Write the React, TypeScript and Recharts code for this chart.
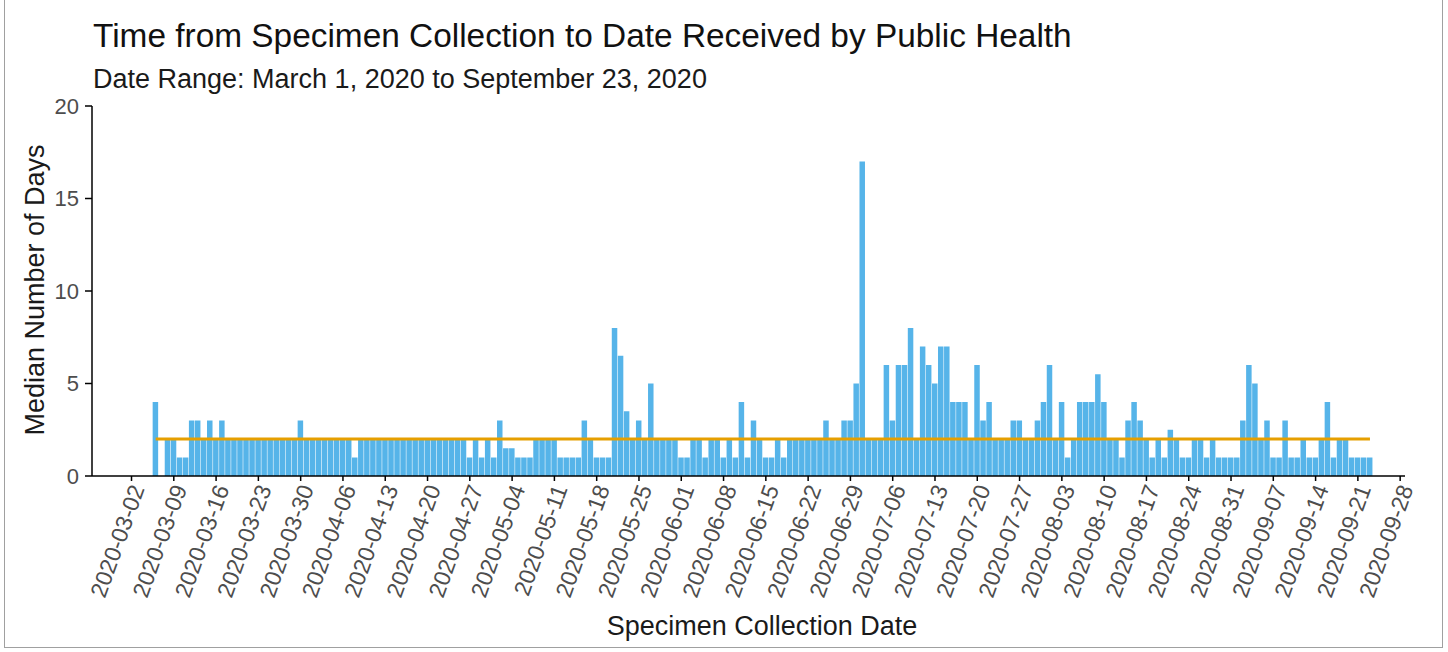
import React from 'react';
import { ComposedChart, Bar, Line, XAxis, YAxis } from 'recharts';

// median days per specimen collection date, first bar is 2020-03-06
const firstDay = 4; // days after 2020-03-02
const march = [4, null, 2, 2, 1, 1, 3, 3, 2, 3, 2, 3, 2, 2, 2, 2, 2, 2, 2, 2, 2, 2, 2, 2, 3, 2];
const april = [2, 2, 2, 2, 2, 2, 2, 1, 2, 2, 2, 2, 2, 2, 2, 2, 2, 2, 2, 2, 2, 2, 2, 2, 2, 2, 1, 2, 1, 2];
const may = [1, 3, 1.5, 1.5, 1, 1, 1, 2, 2, 2, 2, 1, 1, 1, 1, 3, 2, 1, 1, 1, 8, 6.5, 3.5, 2, 3, 2, 5, 2, 2, 2, 2];
const june = [1, 1, 2, 2, 1, 2, 2, 1, 2, 1, 4, 1, 3, 2, 1, 1, 2, 1, 2, 2, 2, 2, 2, 2, 3, 2, 2, 3, 3, 5];
const july = [17, 2, 2, 2, 6, 3, 6, 6, 8, 2, 7, 6, 5, 7, 7, 4, 4, 4, 2, 6, 3, 4, 2, 2, 2, 3, 3, 2, 2, 3, 4];
const august = [6, 2, 4, 1, 2, 4, 4, 4, 5.5, 4, 2, 2, 1, 3, 4, 3, 2, 1, 2, 1, 2.5, 2, 1, 1, 2, 2, 1, 2, 1, 1, 1];
const september = [1, 3, 6, 5, 2, 3, 1, 1, 3, 1, 1, 2, 1, 1, 2, 4, 1, 2, 2, 1, 1, 1, 1];

// overall median drawn as the orange line
const overallMedian = 2;

const tickLabels = [
  '2020-03-02', '2020-03-09', '2020-03-16', '2020-03-23', '2020-03-30',
  '2020-04-06', '2020-04-13', '2020-04-20', '2020-04-27', '2020-05-04',
  '2020-05-11', '2020-05-18', '2020-05-25', '2020-06-01', '2020-06-08',
  '2020-06-15', '2020-06-22', '2020-06-29', '2020-07-06', '2020-07-13',
  '2020-07-20', '2020-07-27', '2020-08-03', '2020-08-10', '2020-08-17',
  '2020-08-24', '2020-08-31', '2020-09-07', '2020-09-14', '2020-09-21',
  '2020-09-28',
];
const yTicks = [0, 5, 10, 15, 20];

const medians = [...march, ...april, ...may, ...june, ...july, ...august, ...september];
const data = medians.map((v, i) => ({ day: firstDay + i, median: v, overall: overallMedian }));
const xTicks = tickLabels.map((_, i) => i * 7);

const FONT = '"Liberation Sans", Arial, sans-serif';

const DateTick = ({ x, y, payload }: any) => (
  <g transform={`translate(${x + 7},${y + 3})`}>
    <text
      transform="rotate(-70)"
      textAnchor="end"
      fill="#4d4d4d"
      fontSize={23}
      fontFamily={FONT}
      dy="0.3em"
    >
      {tickLabels[Math.round(payload.value / 7)]}
    </text>
  </g>
);

export default function App() {
  return (
    <div style={{ position: 'absolute', left: 0, top: 0, width: 1448, height: 652, background: '#fff', fontFamily: FONT }}>
      <div style={{ position: 'absolute', left: 4, top: 0, width: 1437, height: 647, border: '1px solid #a0a0a0', borderTop: 'none' }} />
      <ComposedChart
        width={1448}
        height={652}
        data={data}
        margin={{ top: 106, right: 43, bottom: 0, left: 0 }}
        style={{ position: 'absolute', left: 0, top: 0 }}
      >
        <XAxis
          dataKey="day"
          type="number"
          domain={[-6.54, 210.8]}
          allowDataOverflow
          ticks={xTicks}
          interval={0}
          height={176}
          tick={<DateTick />}
          tickSize={5}
          axisLine={{ stroke: '#000', strokeWidth: 1.5 }}
          tickLine={{ stroke: '#000', strokeWidth: 1.5 }}
        />
        <YAxis
          type="number"
          domain={[0, 20]}
          ticks={yTicks}
          interval={0}
          width={92}
          tickSize={7}
          tickMargin={6}
          axisLine={{ stroke: '#000', strokeWidth: 1.5 }}
          tickLine={{ stroke: '#000', strokeWidth: 1.5 }}
          tick={{ fill: '#4d4d4d', fontSize: 22, fontFamily: FONT }}
        />
        <Bar dataKey="median" fill="#56B4E9" barSize={5.5} isAnimationActive={false} />
        <Line
          dataKey="overall"
          stroke="#E69F00"
          strokeWidth={3}
          dot={false}
          activeDot={false}
          isAnimationActive={false}
        />
      </ComposedChart>
      <svg width={1448} height={652} style={{ position: 'absolute', left: 0, top: 0, pointerEvents: 'none' }}>
        <text x={93} y={47} fontSize={33.4} fill="#111" fontFamily={FONT}>
          Time from Specimen Collection to Date Received by Public Health
        </text>
        <text x={93} y={88} fontSize={27} fill="#1a1a1a" fontFamily={FONT}>
          Date Range: March 1, 2020 to September 23, 2020
        </text>
        <text x={44} y={290} fontSize={27} fill="#1a1a1a" fontFamily={FONT} textAnchor="middle" transform="rotate(-90 44 290)">
          Median Number of Days
        </text>
        <text x={762} y={635} fontSize={27} fill="#1a1a1a" fontFamily={FONT} textAnchor="middle">
          Specimen Collection Date
        </text>
      </svg>
    </div>
  );
}
